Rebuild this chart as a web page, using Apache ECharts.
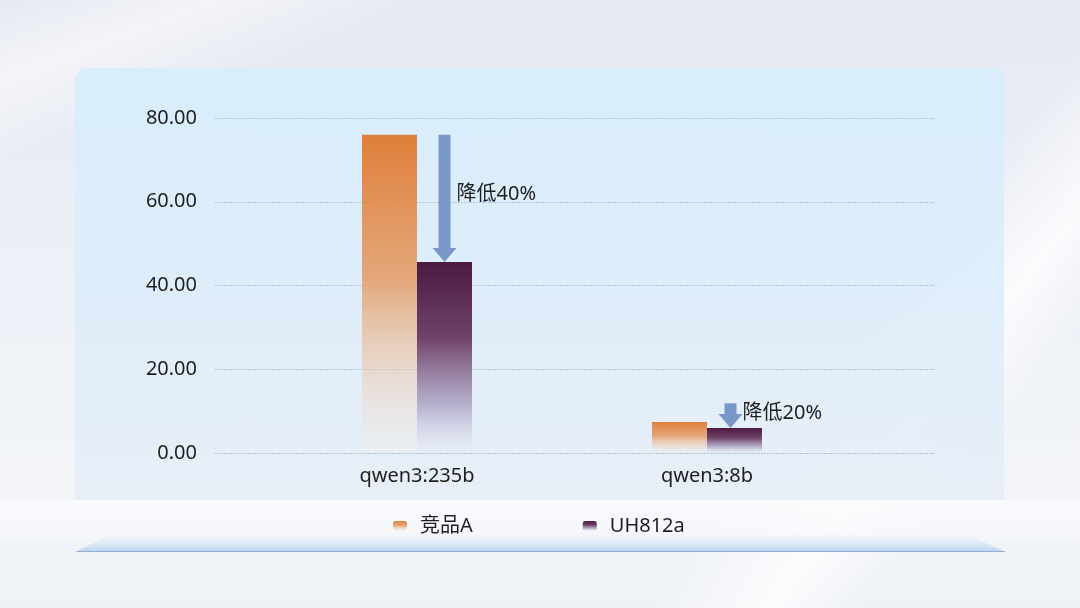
<!DOCTYPE html>
<html>
<head>
<meta charset="utf-8">
<script src="https://cdn.jsdelivr.net/npm/echarts@6/dist/echarts.min.js"></script>
<style>
  html, body { margin: 0; padding: 0; }
  body {
    width: 1080px; height: 608px; overflow: hidden; position: relative;
    background:
      linear-gradient(128deg, rgba(255,255,255,0) 72%, rgba(255,255,255,0.75) 80%, rgba(255,255,255,0) 86%),
      linear-gradient(160deg, rgba(255,255,255,0) 0%, rgba(255,255,255,0.5) 8%, rgba(255,255,255,0) 16%),
      linear-gradient(180deg, #e6e9f2 0%, #eceff6 40%, #f3f5f9 82%, #eef1f6 100%);
  }
  .panel {
    position: absolute; left: 75px; top: 68px; width: 929px; height: 432px;
    border-radius: 12px 12px 0 0;
    background: linear-gradient(180deg, rgba(216,237,252,0.95) 0%, rgba(221,237,250,0.9) 55%, rgba(231,238,247,0.9) 100%);
  }
  .floor {
    position: absolute; left: 0; top: 500px; width: 1080px; height: 40px;
    background: linear-gradient(180deg, rgba(250,251,253,0.9), rgba(246,248,251,0.6));
  }
  .platform {
    position: absolute; left: 75px; top: 535px; width: 931px; height: 17px;
    clip-path: polygon(35px 0, 893px 0, 931px 100%, 0 100%);
    background: linear-gradient(180deg, #f3f7fc 0%, #dbe8f8 60%, #bfd5f2 100%);
    border-bottom: 1px solid #93afd6; box-sizing: border-box;
  }
  #main { position: absolute; left: 0; top: 0; width: 1080px; height: 608px; }
</style>
</head>
<body>
<div class="panel"></div>
<div class="floor"></div>
<div class="platform"></div>
<div id="main"></div>
<script>
// 类目与数值
var categories = ['qwen3:235b', 'qwen3:8b'];
var seriesNames = ['竞品A', 'UH812a'];
var valuesA = [76, 7.4];
var valuesB = [45.6, 6.0];
// 箭头：起点、终点、文字
var arrowFrom = [76, 11.9];
var arrowTo = [45.6, 6.0];
var arrowLabels = ['降低40%', '降低20%'];
var yTicks = [0, 20, 40, 60, 80];

var FONT = '"Noto Sans", "Noto Sans CJK SC", sans-serif';
var TEXT_COLOR = '#1f1f1f';
var barWidth = 55;

var arrowData = categories.map(function (c, i) {
    return [i, arrowFrom[i], arrowTo[i]];
});

function renderArrow(params, api) {
    var top = api.coord([api.value(0), api.value(1)]);
    var tip = api.coord([api.value(0), api.value(2)]);
    var x = top[0] + barWidth / 2 - (params.dataIndex === 1 ? 4 : 0);
    var sw = 6, hw = 12, hh = 14;
    return {
        type: 'group',
        children: [{
            type: 'polygon',
            shape: {
                points: [
                    [x - sw, top[1]], [x + sw, top[1]], [x + sw, tip[1] - hh],
                    [x + hw, tip[1] - hh], [x, tip[1]], [x - hw, tip[1] - hh],
                    [x - sw, tip[1] - hh]
                ]
            },
            style: { fill: '#7998c9' }
        }, {
            type: 'text',
            x: x + 12,
            y: (top[1] + tip[1]) / 2 - 4 + (params.dataIndex === 1 ? 2 : 0),
            style: {
                text: arrowLabels[params.dataIndex],
                fill: TEXT_COLOR,
                font: '20px ' + FONT,
                verticalAlign: 'middle'
            }
        }]
    };
}

var option = {
    textStyle: { fontFamily: FONT },
    legend: {
        data: seriesNames,
        left: 388,
        top: 511,
        itemWidth: 14,
        itemHeight: 10,
        itemGap: 110,
        textStyle: { fontSize: 20, color: TEXT_COLOR, fontFamily: FONT, padding: [0, 0, 0, 8] }
    },
    grid: [
        { left: 215, right: 145, top: 118, bottom: 155 },
        { left: 272, right: 228, top: 118, bottom: 155 }
    ],
    xAxis: [
        { gridIndex: 0, type: 'value', show: false, min: 0, max: 1 },
        {
            gridIndex: 1, type: 'category', data: categories,
            axisLine: { show: false }, axisTick: { show: false },
            axisLabel: { fontSize: 20, color: TEXT_COLOR, margin: 13, fontFamily: FONT }
        }
    ],
    yAxis: [
        {
            gridIndex: 0, type: 'value', min: yTicks[0], max: yTicks[yTicks.length - 1], interval: 20,
            axisLine: { show: false }, axisTick: { show: false },
            axisLabel: {
                fontSize: 20, color: TEXT_COLOR, margin: 18, fontFamily: FONT,
                formatter: function (v) { return v.toFixed(2); }
            },
            splitLine: { lineStyle: { color: '#b4c3d6', type: [2, 1], width: 1 } }
        },
        {
            gridIndex: 1, type: 'value', min: yTicks[0], max: yTicks[yTicks.length - 1], interval: 20,
            show: false, splitLine: { show: false }
        }
    ],
    series: [{
        name: seriesNames[0],
        type: 'bar',
        xAxisIndex: 1, yAxisIndex: 1,
        barWidth: barWidth,
        barGap: '0%',
        data: valuesA,
        itemStyle: {
            color: new echarts.graphic.LinearGradient(0, 0, 0, 1, [
                { offset: 0, color: '#df7f3b' },
                { offset: 0.45, color: 'rgba(228,160,110,0.92)' },
                { offset: 1, color: 'rgba(245,238,232,0.25)' }
            ])
        }
    }, {
        name: seriesNames[1],
        type: 'bar',
        xAxisIndex: 1, yAxisIndex: 1,
        barWidth: barWidth,
        barGap: '0%',
        data: valuesB,
        itemStyle: {
            color: new echarts.graphic.LinearGradient(0, 0, 0, 1, [
                { offset: 0, color: '#4c1a42' },
                { offset: 0.4, color: '#6f4468' },
                { offset: 0.75, color: 'rgba(170,160,195,0.8)' },
                { offset: 1, color: 'rgba(232,234,245,0.3)' }
            ])
        }
    }, {
        type: 'custom',
        xAxisIndex: 1, yAxisIndex: 1,
        data: arrowData,
        renderItem: renderArrow,
        z: 5,
        silent: true
    }]
};

var chart = echarts.init(document.getElementById('main'));
chart.setOption(option);
</script>
</body>
</html>
